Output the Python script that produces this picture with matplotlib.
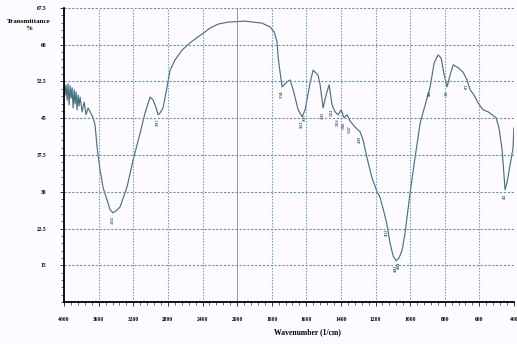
import numpy as np
import matplotlib
matplotlib.use("Agg")
import matplotlib.pyplot as plt

# FTIR spectrum
wavenumber = [4000, 3988, 3977, 3965, 3954, 3942, 3931, 3919, 3908, 3896,
              3884, 3873, 3861, 3850, 3838, 3827, 3815, 3792, 3769, 3746,
              3723, 3699, 3665, 3642, 3619, 3584, 3549, 3503, 3468, 3434,
              3399, 3353, 3272, 3202, 3121, 3064, 3006, 2971, 2936, 2913,
              2890, 2856, 2809, 2775, 2717, 2636, 2543, 2451, 2370, 2312,
              2220, 2104, 1954, 1856, 1809, 1786, 1769, 1763, 1751, 1740,
              1711, 1694, 1676, 1647, 1624, 1607, 1578, 1561, 1532,
              1520, 1503, 1486, 1468, 1451, 1434, 1416, 1399, 1382, 1364,
              1347, 1318, 1289, 1272, 1249, 1220, 1191, 1174, 1150, 1133,
              1116, 1098, 1081, 1064, 1046, 1029, 1000, 971, 942, 913,
              884, 861, 838, 821, 803, 786, 769, 751, 722, 694,
              671, 653, 630, 607, 578, 549, 526, 503, 486, 468,
              451, 439, 422, 405, 400]
transmittance = [52.4, 49.7, 51.8, 48.7, 52.0, 47.7, 51.6, 49.1, 51.2, 47.1,
                 50.8, 47.9, 50.4, 46.7, 49.7, 47.5, 49.3, 46.3, 48.3, 45.7,
                 47.1, 46.3, 45.1, 43.6, 39.1, 34.4, 30.8, 28.3, 26.3, 25.7,
                 26.1, 26.9, 31.0, 36.5, 42.0, 46.1, 49.3, 48.7, 47.1, 45.7,
                 46.1, 47.1, 51.4, 54.8, 56.9, 58.9, 60.4, 61.6, 62.6, 63.4,
                 64.2, 64.6, 64.8, 64.4, 63.6, 62.6, 60.6, 57.5, 54.2, 51.4,
                 52.4, 52.8, 50.8, 46.7, 45.3, 46.7, 52.2, 54.8, 53.8,
                 51.8, 47.1, 49.7, 51.8, 47.7, 46.3, 45.7, 46.7, 45.1, 45.7,
                 44.4, 43.2, 42.2, 40.6, 36.9, 32.8, 30.0, 28.9, 25.7, 23.2,
                 19.5, 16.9, 15.9, 16.5, 18.1, 21.6, 29.8, 37.1, 44.0, 47.7,
                 51.4, 56.3, 57.9, 57.3, 53.8, 51.4, 53.8, 55.9, 55.3, 54.4,
                 52.8, 50.8, 49.7, 48.1, 46.7, 46.3, 45.7, 45.1, 43.0, 38.5,
                 30.4, 32.0, 35.5, 38.9, 43.0]

# peaks marked on the chart
peak_wn = [3434, 2913, 1740, 1624, 1607, 1503, 1451, 1416, 1382, 1347,
           1289, 1133, 1081, 1064, 884, 786, 671, 451]
peak_t = [25.7, 45.7, 51.4, 45.3, 46.7, 47.1, 47.7, 45.7, 45.1, 44.4,
          42.2, 23.2, 15.9, 16.5, 51.4, 51.4, 52.8, 30.4]

x_ticks = [4000, 3600, 3200, 2800, 2400, 2000, 1800, 1600, 1400, 1200,
           1000, 800, 600, 400]
y_ticks = [15, 22.5, 30, 37.5, 45, 52.5, 60, 67.5]
y_labels = ["15", "22.5", "30", "37.5", "45", "52.5", "60", "67.5"]


# Shimadzu style axis: 4000-2000 compressed by half
def fwd(x):
    x = np.asarray(x, dtype=float)
    return np.where(x <= 2000, x, 2000 + (x - 2000) / 2)


def inv(u):
    u = np.asarray(u, dtype=float)
    return np.where(u <= 2000, u, 2000 + (u - 2000) * 2)


def main():
    plt.rcParams['font.family'] = ['Liberation Serif', 'DejaVu Serif']
    fig = plt.figure(figsize=(5.17, 3.44), dpi=100)
    fig.patch.set_facecolor('#fdfbff')
    ax = fig.add_axes([0.124, 0.122, 0.870, 0.855])
    ax.set_facecolor('#fdfbff')
    ax.set_xscale('function', functions=(fwd, inv))
    ax.set_xlim(4000, 400)
    ax.set_ylim(7.5, 67.5)

    ax.plot(wavenumber, transmittance, color='#4a7282', linewidth=0.85)

    for w, t in zip(peak_wn, peak_t):
        ax.text(w, t - 0.8, str(w), rotation=90, fontsize=2.6, color='#2f5566',
                ha='center', va='top', fontweight='bold')

    ax.set_xticks(x_ticks)
    ax.set_xticklabels([str(v) for v in x_ticks], fontsize=4, fontweight='bold')
    minor_x = list(range(4000, 2000, -80)) + list(range(2000, 400, -40))
    ax.set_xticks(minor_x, minor=True)
    ax.set_yticks(y_ticks)
    ax.set_yticklabels(y_labels, fontsize=4, fontweight='bold')
    ax.set_yticks(np.arange(7.5, 67.6, 1.5), minor=True)

    ax.tick_params(which='major', direction='out', length=3, width=0.7,
                   color='#333333', pad=8)
    ax.tick_params(which='minor', direction='out', length=2, width=0.6,
                   color='#555555')
    ax.tick_params(axis='y', pad=10)

    for gx in x_ticks[1:-1]:
        if gx == 2000:
            # scale break line
            ax.axvline(gx, color='#8a97a8', linestyle='-', linewidth=0.7)
        else:
            ax.axvline(gx, color='#6a8fb5', linestyle=(0, (1.2, 1.5)),
                       linewidth=0.8)
    for gy in y_ticks:
        ax.axhline(gy, color='#6a8fb5', linestyle=(0, (2, 1.5)), linewidth=0.8)

    for s in ['top', 'right']:
        ax.spines[s].set_visible(False)
    ax.spines['left'].set_linewidth(1.3)
    ax.spines['bottom'].set_linewidth(1.3)

    fig.text(0.055, 0.945, "Transmittance\n%", fontsize=5, fontweight='bold',
             ha='center', va='top', linespacing=1.6)
    ax.set_xlabel("Wavenumber (1/cm)", fontsize=5.5, fontweight='bold',
                  labelpad=4)
    ax.xaxis.set_label_coords(0.54, -0.09)

    fig.savefig("out.png", dpi=100, facecolor=fig.get_facecolor())


if __name__ == "__main__":
    main()
